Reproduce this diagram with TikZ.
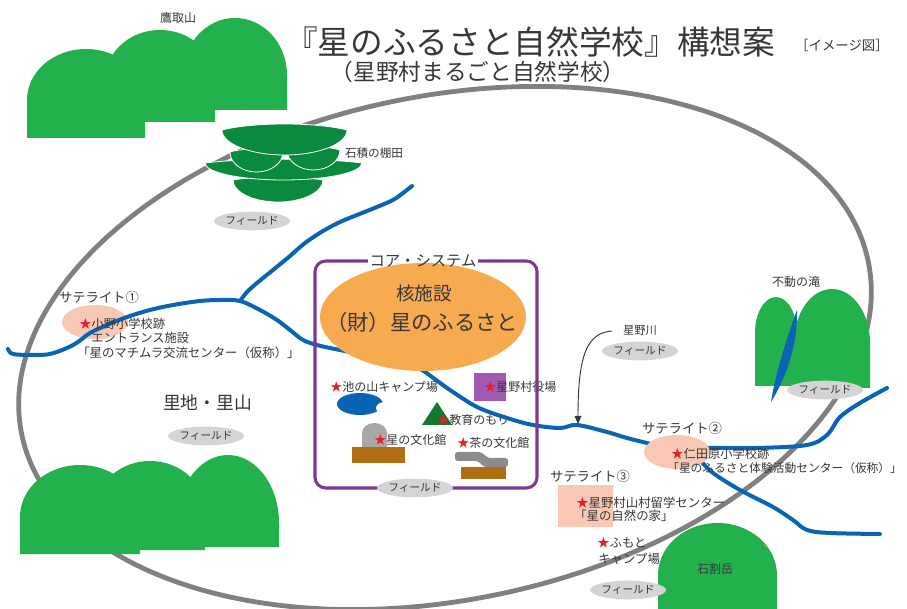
\documentclass[tikz,border=0pt]{standalone}
\usepackage{fontspec}
\setmainfont{Noto Sans CJK JP}
\usetikzlibrary{shapes.geometric,arrows.meta}

\definecolor{ink}{RGB}{55,55,55}
\definecolor{ringgrey}{RGB}{128,128,128}
\definecolor{yamagreen}{RGB}{34,177,76}
\definecolor{tanagreen}{RGB}{10,138,62}
\definecolor{riverblue}{RGB}{10,100,180}
\definecolor{coreline}{RGB}{125,55,150}
\definecolor{coreorange}{RGB}{247,170,80}
\definecolor{yakuba}{RGB}{160,90,180}
\definecolor{satpink}{RGB}{249,200,180}
\definecolor{fieldgrey}{RGB}{212,212,212}
\definecolor{brownbase}{RGB}{176,110,20}
\definecolor{domegrey}{RGB}{168,168,168}
\definecolor{teagrey}{RGB}{140,140,140}
\definecolor{forest}{RGB}{20,120,50}
\definecolor{starred}{RGB}{230,30,40}

\newcommand\hoshi{\textcolor{starred}{★}}
\newcommand\jfs[1]{\fontsize{#1}{#1}\selectfont}
% dome: style, centre x, arc centre y, x radius, y radius, base y
\newcommand\yama[6]{\fill[#1] ({#2-#4},#6) -- ({#2-#4},#3)
  arc[start angle=180,end angle=360,x radius=#4,y radius=#5] -- ({#2+#4},#6) -- cycle;}
% terrace layer: left x, right x, top y, depth, top bulge
\newcommand\tana[5]{\filldraw[fill=tanagreen,draw=white,line width=0.6pt] (#1,#3)
  arc[start angle=180,end angle=0,x radius={(#2-#1)/2},y radius=#4]
  .. controls ({#2-(#2-#1)/4},{#3-#5}) and ({#1+(#2-#1)/4},{#3-#5}) .. (#1,#3) -- cycle;}

\tikzset{
  lbl/.style={font=\jfs{9}, text=ink, inner sep=0pt, anchor=west},
  clbl/.style={font=\jfs{9}, text=ink, inner sep=0pt},
  sat/.style={font=\jfs{10}, text=ink, inner sep=0pt},
  field/.style={ellipse, fill=fieldgrey, inner sep=0pt, minimum width=57pt,
    minimum height=14pt, font=\jfs{8}, text=ink},
  riverline/.style={draw=riverblue, line width=3pt, line cap=round, line join=round},
}

\begin{document}
\begin{tikzpicture}[x=0.75pt,y=-0.75pt]
\useasboundingbox (0,0) rectangle (907,609);
\clip (0,0) rectangle (907,609);

% village boundary
\draw[ringgrey, line width=3.6pt, rotate around={11.5:(445,348)}]
  (445,348) ellipse [x radius=432, y radius=252];

% satellite 1 disc
\fill[satpink] (95,322) ellipse [x radius=33, y radius=17];

% title
\node[font=\jfs{24.5}, text=ink, inner sep=0pt] (title) at (530,42) {『星のふるさと自然学校』構想案};
\node[font=\jfs{10}, text=ink, inner sep=0pt] (imagezu) at (842,45) {［イメージ図］};
\node[font=\jfs{17}, text=ink, inner sep=0pt] (subtitle) at (478,72) {（星野村まるごと自然学校）};

% terraces
\tana{233}{323}{180}{22}{4}
\tana{205}{362}{163}{17}{5}
\tana{230}{283}{152}{20}{4}
\tana{287}{340}{150}{20}{4}
\tana{222}{347}{130}{25}{8}
\node[clbl, font=\jfs{8.7}] (tanada) at (374,153) {石積の棚田};

% core contents
\fill[riverblue] (360,404) ellipse [x radius=23, y radius=11];
\fill[white] (385,408) ellipse [x radius=9, y radius=6];
\fill[forest] (422,425) -- (437,402) -- (452,425) -- cycle;
\fill[yakuba] (474,373) rectangle (506,401);
\yama{domegrey}{374.5}{433}{12.5}{10}{447}
\fill[brownbase] (352,447) rectangle (405,463);
\fill[teagrey, rounded corners=2pt] (455,452) -- (481,452) -- (488,458) -- (508,458)
  -- (508,467) -- (484,467) -- (478,461) -- (455,461) -- cycle;
\fill[brownbase] (461,467) rectangle (506,479);

\node[lbl] (ikenoyama) at (330,387) {\hoshi 池の山キャンプ場};
\node[lbl] (yakubalbl) at (484,387) {\hoshi 星野村役場};
\node[lbl] (kyoiku) at (437,420) {\hoshi 教育のもり};
\node[lbl] (hoshibunka) at (374,440) {\hoshi 星の文化館};
\node[lbl] (chabunka) at (457,443) {\hoshi 茶の文化館};

% rivers
\draw[riverline] plot[smooth, tension=0.55] coordinates {
  (8,349) (13,354) (33,355) (50,354) (67,348) (78,342) (90,333) (107,325)
  (127,317) (150,310) (173,305) (200,301) (220,300) (240,301) (260,310)
  (277,320) (290,330) (303,340) (317,345) (330,348) (360,354) (390,360)
  (410,365) (422,370) (436,380) (450,390) (477,407) (507,418) (533,425)
  (560,428) (577,425) (607,432) (627,438) (647,443) (677,450) (707,448)
  (757,448) (807,445) (827,435) (840,417) (860,403) (887,388)};
\draw[riverline] plot[smooth, tension=0.55] coordinates {
  (240,301) (247,292) (257,283) (273,270) (290,256) (305,243) (323,231)
  (340,222) (357,215) (377,207) (393,200) (403,193) (412,186)};
\draw[riverline] plot[smooth, tension=0.55] coordinates {
  (700,460) (713,473) (740,490) (773,507) (793,520) (807,530) (830,533) (880,534)};

% core facility
\fill[coreorange] (423,317) ellipse [x radius=103, y radius=54];
\node[font=\jfs{14}, text=ink, inner sep=0pt] (kaku) at (424,293) {核施設};
\node[font=\jfs{16}, text=ink, inner sep=0pt] (furusato) at (422,322) {（財）星のふるさと};

% core system frame
\node[font=\jfs{11.5}, text=ink, inner sep=1pt] (corelbl) at (423,261) {コア・システム};
\draw[coreline, line width=2.3pt, rounded corners=8pt] (corelbl.east) -- (537,261)
  -- (537,488) -- (315,488) -- (315,261) -- (corelbl.west);

% satellite 1 texts
\node[sat] (sat1) at (99,297) {サテライト①};
\node[lbl, font=\jfs{9.2}] (ono) at (79,324) {\hoshi 小野小学校跡};
\node[lbl, font=\jfs{9.2}] (entrance) at (91,338) {エントランス施設};
\node[lbl, font=\jfs{9.3}] (machimura) at (77,353) {「星のマチムラ交流センター（仮称）」};

\node[font=\jfs{13.3}, text=ink, inner sep=0pt] (satochi) at (207.5,403) {里地・里山};

% satellite 2
\fill[satpink] (677,452) ellipse [x radius=33, y radius=17];
\node[sat] (sat2) at (682,428) {サテライト②};
\node[lbl, font=\jfs{9.2}] (nitabaru) at (671,454) {\hoshi 仁田原小学校跡};
\node[lbl, font=\jfs{8.8}] (taiken) at (667,468) {「星のふるさと体験活動センター（仮称）」};

% satellite 3
\fill[satpink] (558,485) rectangle (613,527);
\node[sat] (sat3) at (590,476) {サテライト③};
\node[lbl, font=\jfs{9.3}] (ryugaku) at (576,503) {\hoshi 星野村山村留学センター};
\node[lbl, font=\jfs{9.3}] (shizennoie) at (574,516) {「星の自然の家」};
\node[lbl, font=\jfs{9.3}] (fumoto) at (597,543) {\hoshi ふもと};
\node[lbl, font=\jfs{9.3}] (fumotocamp) at (598,559) {キャンプ場};

% river pointer
\node[clbl, font=\jfs{8.5}] (hoshinogawa) at (640,330) {星野川};
\coordinate (kawafrom) at (612,331);
\coordinate (kawato) at (578,424);
\draw[ink, line width=0.7pt, -{Triangle[length=6pt,width=5pt]}]
  (kawafrom) .. controls (588,333) and (578,352) .. (kawato);

% mountains
\yama{yamagreen}{86}{100}{59}{51}{138}
\yama{yamagreen}{160}{80}{55}{50}{122}
\yama{yamagreen}{235}{75}{52}{57}{110}
\node[clbl] (takatori) at (178,18) {鷹取山};

\yama{yamagreen}{80}{517}{60}{52}{554}
\yama{yamagreen}{150}{511}{55}{50}{550}
\yama{yamagreen}{228}{523}{51}{68}{547}

\yama{yamagreen}{776}{333}{21}{36}{386}
\yama{yamagreen}{832}{343}{38}{54}{388}
\fill[riverblue] (797,310) .. controls (798,345) and (785,380) .. (771,402)
  .. controls (776,370) and (788,335) .. (797,310) -- cycle;
\node[clbl] (fudo) at (796,282) {不動の滝};

\yama{yamagreen}{717.5}{575}{59.5}{52}{620}
\node[clbl] (ishiwari) at (715,569) {石割岳};

% fields
\node[field] (f-tana) at (252,221) {フィールド};
\node[field] (f-satochi) at (206,436) {フィールド};
\node[field] (f-core) at (415,488) {フィールド};
\node[field] (f-kawa) at (640,351) {フィールド};
\node[field] (f-fudo) at (825,390) {フィールド};
\node[field] (f-fumoto) at (628,590) {フィールド};
\end{tikzpicture}
\end{document}
